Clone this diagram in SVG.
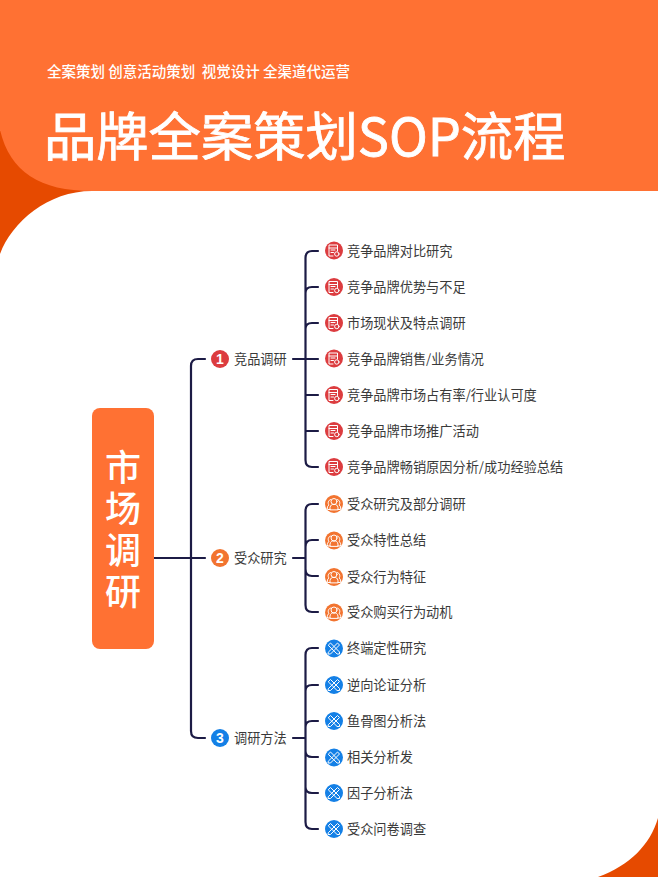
<svg xmlns="http://www.w3.org/2000/svg" width="658" height="877" viewBox="0 0 658 877">
<style>
text{font-family:"Noto Sans CJK SC","Liberation Sans",sans-serif}
.l{fill:none;stroke:#1c1b45;stroke-width:2.200;stroke-linecap:round}
.t{font-size:13.200px;fill:#3a3a3a;dominant-baseline:central}
.num{font-size:14px;font-weight:700;fill:#fff;text-anchor:middle;dominant-baseline:central;font-family:"Liberation Sans",sans-serif}
.g{fill:none;stroke:#fff;stroke-width:1;stroke-linecap:round;stroke-linejoin:round}
</style>
<defs>
<g id="doc"><circle r="9" fill="#dc3c3f"/><path class="g" d="M-1 5.500H-5V-5.500H3.500V.5M-5-2.500H3.500M-3-.5H1M-3 2H-.5"/><circle class="g" cx="2.800" cy="3.500" r="2.200"/></g>
<g id="ppl"><circle r="9" fill="#f27430"/><circle class="g" cx="0" cy="-2.500" r="3"/><path class="g" d="M-4 5.500C-4.500 2.500-3 .8-1.500 .5H1.500C3 .8 4.500 2.500 4 5.500ZM-3.200-4.500C-6-4-6.500-.5-5 1C-6.500 1.800-7 3.500-6.500 5.500H-4M3.200-4.500C6-4 6.500-.5 5 1C6.500 1.800 7 3.500 6.500 5.500H4"/></g>
<g id="tool"><circle r="9" fill="#1480e6"/><path class="g" d="M-5.500-3.500L-3.500-5.500L5.500 3.500L5.500 5.500L3.500 5.500ZM-5.500 3.500L3.500-5.500L5.500-3.500L-3.500 5.500L-5.500 5.500Z"/></g>
</defs>
<rect width="658" height="877" fill="#fff"/>
<g id="background">
<path d="M0 130V254C12 222 48 191 92 191Z" fill="#e64a00"/>
<path d="M0 0H658V191H92C40 191 10 172 0 130Z" fill="#ff7133"/>
<path d="M658 818V877H598C630 865 650 845 658 818Z" fill="#e64a00"/>
</g>
<g id="header">
<text x="47" y="70" font-size="14.500" font-weight="500" fill="#fff" dominant-baseline="central" xml:space="preserve">全案策划 创意活动策划  视觉设计 全渠道代运营</text>
<text x="44" y="132.500" font-size="52.300" fill="#fff" stroke="#fff" stroke-width="0.800" dominant-baseline="central">品牌全案策划SOP流程</text>
</g>
<g id="connectors">
<path class="l" d="M205 359H198Q191 359 191 366V731Q191 738 198 738H205M154 558H205"/>
<path class="l" d="M293 359H318M318 251H312Q305.500 251 305.500 258V460Q305.500 467 312 467H318M305.500 293Q305.500 287 312 287H318M305.500 329Q305.500 323 312 323H318M305.500 395H318M305.500 431H318"/>
<path class="l" d="M293 558H305.500M318 504H312Q305.500 504 305.500 511V605Q305.500 612 312 612H318M305.500 547Q305.500 540 312 540H318M305.500 569Q305.500 576 312 576H318"/>
<path class="l" d="M293 738H305.500M318 648H312Q305.500 648 305.500 655V822Q305.500 829 312 829H318M305.500 691Q305.500 685 312 685H318M305.500 727Q305.500 721 312 721H318M305.500 751Q305.500 757 312 757H318M305.500 787Q305.500 793 312 793H318"/>
</g>
<g id="root"><rect x="92" y="408" width="62" height="241" rx="8" fill="#ff7133"/>
<text x="123" y="449" font-size="36" font-weight="500" fill="#fff" letter-spacing="5.500" style="writing-mode:vertical-rl;dominant-baseline:central">市场调研</text></g>
<g id="topic1"><circle cx="220" cy="359" r="9" fill="#dc3c3f"/><text x="220" y="359" class="num">1</text><text x="234" y="358" class="t">竞品调研</text></g>
<g id="topic2"><circle cx="220" cy="558" r="9" fill="#f27430"/><text x="220" y="558" class="num">2</text><text x="234" y="557" class="t">受众研究</text></g>
<g id="topic3"><circle cx="220" cy="738" r="9" fill="#1480e6"/><text x="220" y="738" class="num">3</text><text x="234" y="737" class="t">调研方法</text></g>
<g id="a1"><use href="#doc" x="334" y="250.500"/><text x="347" y="250" class="t">竞争品牌对比研究</text></g>
<g id="a2"><use href="#doc" x="334" y="287"/><text x="347" y="286" class="t">竞争品牌优势与不足</text></g>
<g id="a3"><use href="#doc" x="334" y="323"/><text x="347" y="322" class="t">市场现状及特点调研</text></g>
<g id="a4"><use href="#doc" x="334" y="358.500"/><text x="347" y="358" class="t">竞争品牌销售/业务情况</text></g>
<g id="a5"><use href="#doc" x="334" y="395"/><text x="347" y="394" class="t">竞争品牌市场占有率/行业认可度</text></g>
<g id="a6"><use href="#doc" x="334" y="431"/><text x="347" y="430" class="t">竞争品牌市场推广活动</text></g>
<g id="a7"><use href="#doc" x="334" y="467"/><text x="347" y="466" class="t">竞争品牌畅销原因分析/成功经验总结</text></g>
<g id="b1"><use href="#ppl" x="334" y="504"/><text x="347" y="503" class="t">受众研究及部分调研</text></g>
<g id="b2"><use href="#ppl" x="334" y="540.500"/><text x="347" y="539" class="t">受众特性总结</text></g>
<g id="b3"><use href="#ppl" x="334" y="577"/><text x="347" y="576" class="t">受众行为特征</text></g>
<g id="b4"><use href="#ppl" x="334" y="612.500"/><text x="347" y="611" class="t">受众购买行为动机</text></g>
<g id="c1"><use href="#tool" x="334" y="648.500"/><text x="347" y="647" class="t">终端定性研究</text></g>
<g id="c2"><use href="#tool" x="334" y="685"/><text x="347" y="684" class="t">逆向论证分析</text></g>
<g id="c3"><use href="#tool" x="334" y="721"/><text x="347" y="720" class="t">鱼骨图分析法</text></g>
<g id="c4"><use href="#tool" x="334" y="757.500"/><text x="347" y="756" class="t">相关分析发</text></g>
<g id="c5"><use href="#tool" x="334" y="793"/><text x="347" y="792" class="t">因子分析法</text></g>
<g id="c6"><use href="#tool" x="334" y="829"/><text x="347" y="828" class="t">受众问卷调查</text></g>
</svg>
